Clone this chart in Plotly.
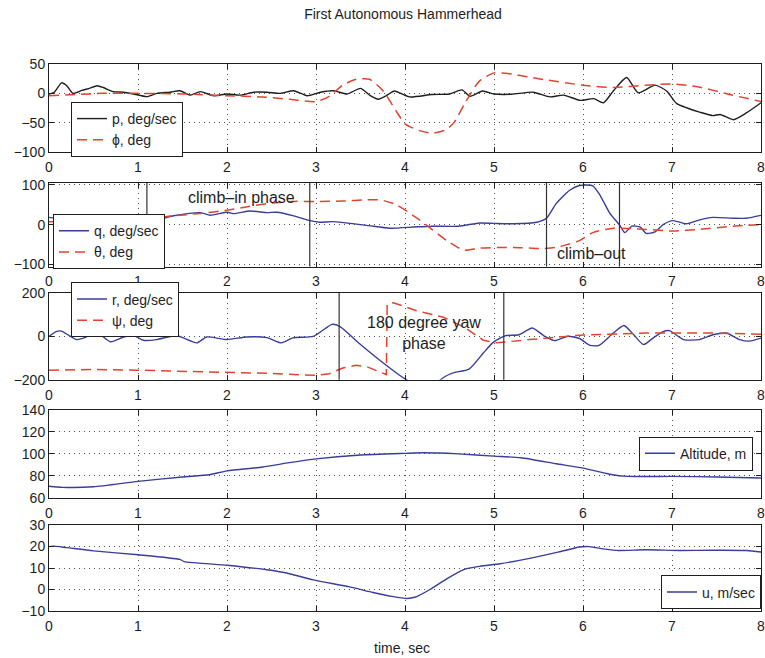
import plotly.graph_objects as go

# ---------------- data ----------------
title_text = "First Autonomous Hammerhead"
x_ticks = [0, 1, 2, 3, 4, 5, 6, 7, 8]

# subplot 1: roll rate p and roll angle phi
t_p = [0, 0.06, 0.14, 0.2, 0.27, 0.37, 0.46, 0.54, 0.61, 0.72, 0.84, 0.95, 1.1, 1.21, 1.36, 1.47,
       1.59, 1.7, 1.85, 2.0, 2.15, 2.3, 2.45, 2.6, 2.75, 2.9, 3.05, 3.2, 3.35, 3.5, 3.61, 3.7, 3.8,
       3.88, 4.05, 4.3, 4.5, 4.64, 4.73, 4.87, 5.0, 5.2, 5.44, 5.63, 5.78, 5.97, 6.12, 6.23, 6.34,
       6.49, 6.62, 6.81, 6.94, 7.05, 7.17, 7.31, 7.46, 7.54, 7.69, 7.84, 8.0]
p_vals = [-1, 2, 18, 13, 0, 5, 9, 13, 10, 3, 2, -1, -5.5, 0, 2, 4.5,
          -3, 3, -4, -1, -3, 2, 2, 0, 4.5, -4, 2, 4.5, -1, 8.5, -4, -10, -3,
          4, -6, -2, -1, 6, -5, 4, -1, -1.5, 2, -6, -3, -12, -9, -16, 4,
          27, 1, 14, 4, -17, -25, -32, -38, -36, -45, -33, -16]
t_phi = [0, 0.3, 0.6, 1.0, 1.5, 2.0, 2.4, 2.7, 3.0, 3.15, 3.3, 3.45, 3.6, 3.75, 3.9, 4.0, 4.15,
         4.3, 4.45, 4.55, 4.68, 4.83, 5.0, 5.2, 5.5, 6.0, 6.35, 6.7, 7.0, 7.3, 7.65, 8.0]
phi_vals = [-4, -2, 0, 0, -1, -4, -6, -10, -14, -5, 14, 24, 24, 5, -30, -52, -63,
            -68, -63, -50, -15, 20, 35, 33, 25, 14, 10, 14, 16, 11, -2, -14]

# subplot 2: pitch rate q and pitch angle theta
t_q = [0, 0.12, 0.24, 0.35, 0.42, 0.57, 0.76, 0.95, 1.1, 1.21, 1.4, 1.7, 1.81, 2.0, 2.07, 2.26,
       2.45, 2.56, 2.75, 2.93, 3.04, 3.19, 3.57, 3.83, 4.1, 4.3, 4.6, 4.84, 5.0, 5.22, 5.48, 5.59,
       5.7, 5.85, 5.96, 6.11, 6.19, 6.3, 6.41, 6.47, 6.55, 6.64, 6.71, 6.81, 6.9, 7.01, 7.16,
       7.31, 7.46, 7.69, 7.84, 8.0]
q_vals = [18, 15.5, 20, 10, 3, 4, 7.5, 10, 15, 12.5, 22, 30, 23.5, 31, 27.5, 34,
          30, 31, 22, 10, 6, 7.5, -2, -9, -6, -4, -4, 4, 3, 2, 6, 16,
          53, 86, 98, 97, 74, 29, -1, -20, -4, -6, -22, -18, 0, 10, 2,
          12, 18, 16, 16, 23]
t_theta = [0, 0.3, 0.6, 1.0, 1.2, 1.4, 1.7, 2.0, 2.26, 2.5, 2.75, 3.0, 3.3, 3.57, 3.72, 3.9,
           4.13, 4.28, 4.47, 4.66, 4.84, 5.22, 5.52, 5.7, 5.96, 6.11, 6.34, 6.53, 6.71, 7.01,
           7.31, 7.69, 8.0]
theta_vals = [7, 9, 10, 13, 17, 22, 28, 36, 46, 54, 58, 58, 59, 62, 62, 50,
              17, -8, -40, -64, -59, -57, -60, -57, -40, -20, -9, -10, -12, -16,
              -12, -4, 0]
climb_phase_times = [1.10, 2.93, 5.59, 6.41]

# subplot 3: yaw rate r and heading psi
t_r = [0, 0.08, 0.14, 0.22, 0.31, 0.42, 0.5, 0.57, 0.69, 0.84, 0.95, 1.06, 1.21, 1.43, 1.66,
       1.77, 2.0, 2.22, 2.45, 2.61, 2.74, 2.97, 3.1, 3.18, 3.27, 3.49, 3.76, 3.98, 4.06, 4.2,
       4.35, 4.45, 4.54, 4.72, 4.88, 4.99, 5.13, 5.28, 5.43, 5.57, 5.68, 5.83, 5.96, 6.08,
       6.18, 6.34, 6.46, 6.57, 6.68, 6.79, 6.9, 6.97, 7.13, 7.31, 7.46, 7.61, 7.76, 7.87, 8.0]
r_vals = [0, 22, 24, 5, -15, -3, 15, 9, -25, -3, 4, -18, -15, 4, -30,
          -3, -15, -3, -6, -30, -7, 0, 35, 55, 45, -34, -124, -191, -210, -250,
          -215, -185, -168, -151, -77, -28, 3, 7, 38, 0, -20, 0, -10, -42,
          -42, 15, 50, 7, -38, -7, 22, 26, -15, -15, 7, 15, -15, -22, -8]
t_psi = [0, 0.5, 1.0, 1.5, 2.0, 2.5, 3.0, 3.15, 3.3, 3.45, 3.57, 3.7, 3.79, 3.8, 3.87, 4.13,
         4.43, 4.66, 4.88, 5.03, 5.18, 5.4, 5.96, 6.72, 7.46, 8.0]
psi_vals = [-156, -153, -156, -161, -165, -171, -180, -172, -146, -133, -140, -160, -176, 148,
            155, 118, 88, 43, -18, -30, -25, -15, 5, 15, 15, 10]
yaw_phase_times = [3.26, 5.11]

# subplot 4: altitude
t_alt = [0, 0.15, 0.5, 1.0, 1.5, 1.8, 2.0, 2.4, 2.7, 3.0, 3.5, 4.0, 4.2, 4.6, 5.0, 5.3, 5.7,
         6.0, 6.3, 6.5, 7.0, 7.5, 8.0]
alt_vals = [70.5, 69.5, 70, 75, 79, 81, 84.5, 88, 92, 95.5, 99, 100.5, 101, 100, 98, 96.5, 91,
            87, 81.5, 79.5, 79.5, 79, 78]

# subplot 5: forward speed u
t_u = [0, 0.05, 0.2, 0.5, 1.0, 1.47, 1.52, 2.0, 2.45, 2.67, 2.97, 3.38, 3.64, 3.85, 4.02, 4.12,
       4.28, 4.47, 4.66, 4.84, 5.07, 5.4, 5.73, 5.96, 6.07, 6.25, 6.4, 6.7, 7.09, 7.46, 7.84, 8.0]
u_vals = [20, 20.2, 19.5, 18, 16.2, 14, 13, 11.3, 9.2, 7.7, 4.5, 1.2, -1.4, -3.2, -4.2, -3.5,
          0, 5, 9.3, 10.8, 12, 14.5, 17.5, 19.8, 20, 18.8, 18.2, 18.5, 18.2, 18.3, 18.2, 17.5]

# ---------------- styling ----------------
FONT = "Liberation Sans, Arial, Helvetica, sans-serif"
INK = "#1e1e1e"
BLUE = "#3a3d9a"
RED = "#e2432e"
W, H = 765, 658
L_M, R_M = 49, 4
# vertical pixel extents of the five panels (top, bottom)
panel_px = [(57.5, 147.5), (179, 265), (292, 381), (412, 502), (530, 618)]


def dom(top, bot):
    return [1 - bot / H, 1 - top / H]


fig = go.Figure()

red_line = dict(color=RED, width=1.5, dash="10px,6px")
blue_line = dict(color=BLUE, width=1.4)

fig.add_trace(go.Scatter(x=t_p, y=p_vals, mode="lines", name="p, deg/sec",
                         line=dict(color=INK, width=1.4, shape="spline", smoothing=0.6),
                         xaxis="x", yaxis="y", legend="legend"))
fig.add_trace(go.Scatter(x=t_phi, y=phi_vals, mode="lines", name="ϕ, deg",
                         line=dict(red_line, shape="spline", smoothing=0.6),
                         xaxis="x", yaxis="y", legend="legend"))
fig.add_trace(go.Scatter(x=t_q, y=q_vals, mode="lines", name="q, deg/sec",
                         line=dict(blue_line, shape="spline", smoothing=0.6),
                         xaxis="x2", yaxis="y2", legend="legend2"))
fig.add_trace(go.Scatter(x=t_theta, y=theta_vals, mode="lines", name="θ, deg",
                         line=dict(red_line, shape="spline", smoothing=0.6),
                         xaxis="x2", yaxis="y2", legend="legend2"))
fig.add_trace(go.Scatter(x=t_r, y=r_vals, mode="lines", name="r, deg/sec",
                         line=dict(blue_line, shape="spline", smoothing=0.6),
                         xaxis="x3", yaxis="y3", legend="legend3"))
fig.add_trace(go.Scatter(x=t_psi, y=psi_vals, mode="lines", name="ψ, deg",
                         line=red_line,
                         xaxis="x3", yaxis="y3", legend="legend3"))
fig.add_trace(go.Scatter(x=t_alt, y=alt_vals, mode="lines", name="Altitude, m",
                         line=dict(blue_line, shape="spline", smoothing=0.6),
                         xaxis="x4", yaxis="y4", legend="legend4"))
fig.add_trace(go.Scatter(x=t_u, y=u_vals, mode="lines", name="u, m/sec",
                         line=dict(blue_line, shape="spline", smoothing=0.6),
                         xaxis="x5", yaxis="y5", legend="legend5"))

common = dict(ticks="inside", ticklen=5, tickcolor=INK, mirror="allticks", showline=True,
              linecolor=INK, linewidth=1, showgrid=True, gridcolor="#555", gridwidth=1,
              griddash="1px,4px", zeroline=False,
              tickfont=dict(size=14, color=INK, family=FONT))

y_specs = [
    dict(range=[-100, 50], tickvals=[-100, -50, 0, 50]),
    dict(range=[-105, 105], tickvals=[-100, 0, 100]),
    dict(range=[-200, 200], tickvals=[-200, 0, 200]),
    dict(range=[60, 140], tickvals=[60, 80, 100, 120, 140]),
    dict(range=[-10, 30], tickvals=[-10, 0, 10, 20, 30]),
]

layout_axes = {}
for i, (spec, (top, bot)) in enumerate(zip(y_specs, panel_px)):
    n = "" if i == 0 else str(i + 1)
    layout_axes["xaxis" + n] = dict(common, domain=[0, 1], range=[0, 8], tickvals=x_ticks,
                                     anchor="y" + n, ticklabeloverflow="allow",
                                     ticklabelstandoff=2)
    layout_axes["yaxis" + n] = dict(common, domain=dom(top, bot), anchor="x" + n,
                                     range=spec["range"], tickvals=spec["tickvals"])

shapes = []
for tv in climb_phase_times:
    shapes.append(dict(type="line", xref="x2", yref="y2 domain", x0=tv, x1=tv, y0=0, y1=1,
                       line=dict(color="#333", width=1.2)))
for tv in yaw_phase_times:
    shapes.append(dict(type="line", xref="x3", yref="y3 domain", x0=tv, x1=tv, y0=0, y1=1,
                       line=dict(color="#333", width=1.2)))

annotations = [
    dict(text="climb\u2013in phase", xref="x2", yref="y2", x=2.16, y=67, showarrow=False,
         font=dict(size=16, color=INK, family=FONT)),
    dict(text="climb\u2013out", xref="x2", yref="y2", x=6.09, y=-72, showarrow=False,
         font=dict(size=16, color=INK, family=FONT)),
    dict(text="180 degree yaw<br>phase", xref="x3", yref="y3", x=4.21, y=14, showarrow=False,
         font=dict(size=16, color=INK, family=FONT)),
    dict(text="time, sec", xref="paper", yref="paper", x=(402 - L_M) / (W - L_M - R_M), y=0,
         showarrow=False, xanchor="center", yanchor="bottom", yshift=-7, borderpad=0,
         font=dict(size=14, color=INK, family=FONT)),
]


def px_x(x):
    return (x - L_M) / (W - L_M - R_M)


leg_common = dict(bgcolor="white", bordercolor=INK, borderwidth=1, itemwidth=30,
                  font=dict(size=14, color=INK, family=FONT), tracegroupgap=0)

fig.update_layout(
    width=W, height=H,
    margin=dict(l=L_M, r=R_M, t=0, b=0),
    paper_bgcolor="white", plot_bgcolor="white",
    font=dict(family=FONT, color=INK),
    title=dict(text=title_text, x=403 / W, xanchor="center",
               y=1 - 14 / H, yanchor="middle", font=dict(size=14, color=INK, family=FONT)),
    shapes=shapes, annotations=annotations,
    legend=dict(leg_common, x=px_x(71), y=1 - 124.5 / H, xanchor="left", yanchor="middle"),
    legend2=dict(leg_common, x=px_x(53), y=1 - 239.5 / H, xanchor="left", yanchor="middle"),
    legend3=dict(leg_common, x=px_x(71), y=1 - 309.5 / H, xanchor="left", yanchor="middle"),
    legend4=dict(leg_common, x=px_x(753), y=1 - 456.7 / H, xanchor="right", yanchor="middle"),
    legend5=dict(leg_common, x=px_x(761), y=1 - 599 / H, xanchor="right", yanchor="middle"),
    **layout_axes,
)

fig.write_html("out.html")
